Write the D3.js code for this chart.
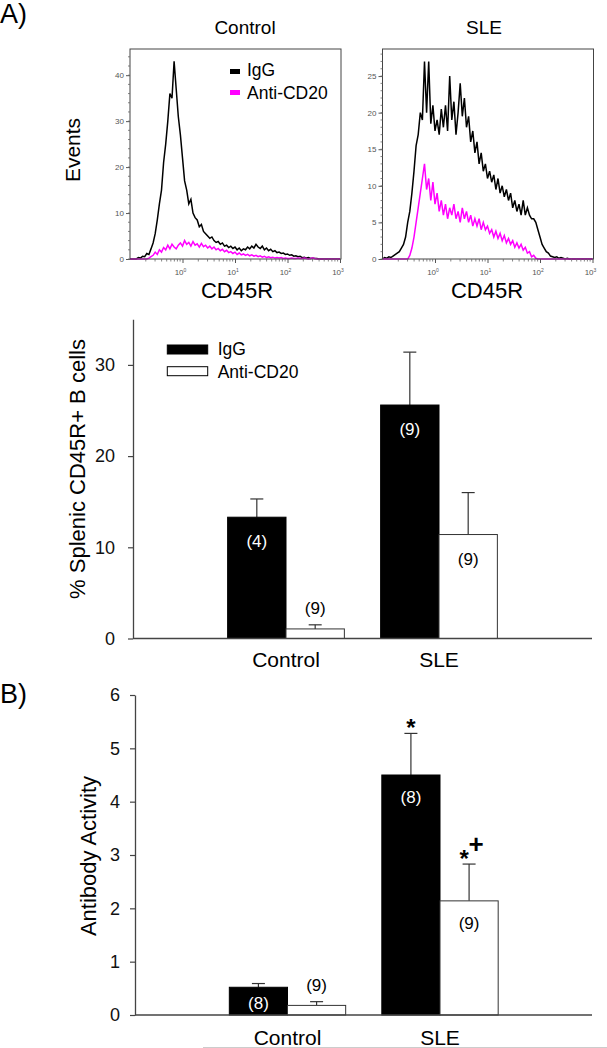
<!DOCTYPE html>
<html><head><meta charset="utf-8">
<script src="https://cdn.jsdelivr.net/npm/d3@7"></script>
<style>
body{margin:0;background:#fff}
svg{display:block}
text{font-family:"Liberation Sans",Arial,Helvetica,sans-serif}
</style>
</head><body>
<svg id="c" width="607" height="1048"></svg>
<script>
// ---------------- DATA ----------------
// Panel A top: flow cytometry histograms (events per channel, channels on a log10 grid)
const histGroups = ["Control", "SLE"];
const histSeries = ["IgG", "Anti-CD20"];
const histLogStart = -1, histLogStep = 0.04; // channel grid: log10(CD45R) from -1 to 3
const ctrlIgG = [0,0,0,0, 0.3,0.2,0.6,0.5,1.2,1.0,
  2.2,3.5,5.5,8.5,12,15,21,25,30,36,
  35,43,37,31,27,22,17,15,12,13,
  10,9,8.5,7,7.5,6,5.5,5,4.5,4.8,
  4,3.6,3.8,3.2,3.5,2.8,3.0,2.5,2.8,2.3,
  2.6,2.0,2.4,1.8,2.2,2.0,2.6,2.2,2.8,2.4,
  3.2,2.6,2.3,2.8,2.0,2.4,1.8,2.1,1.6,1.8,
  1.4,1.5,1.2,1.3,1.0,1.1,0.8,0.9,0.6,0.7,
  0.5,0.6,0.3,0.4,0.2,0.3,0.1,0.2,0.1,0.1,
  0,0,0,0,0,0,0,0,0,0,0];
const ctrlAnti = [0,0,0,0,0,0,0,0,0,
  0.2,0.5,0.8,1.5,1.0,2.0,1.5,2.5,2.0,3.0,2.2,
  3.2,2.6,2.2,3.0,3.5,2.8,4.0,3.2,3.6,2.8,
  3.8,3.0,3.3,2.6,3.4,2.7,3.0,2.4,2.8,2.2,
  2.6,2.0,2.3,1.8,2.1,1.6,1.9,1.4,1.6,1.2,
  1.5,1.0,1.3,0.9,1.1,0.8,1.0,0.7,0.9,0.6,
  0.8,0.5,0.7,0.4,0.6,0.3,0.5,0.3,0.4,0.2,
  0.3,0.2,0.3,0.1,0.2,0.1,0.1,0.2,0.1,0.1,
  0.2,0.1,0.1,0.2,0.1,0,0.1,0.2,0.1,0,
  0,0,0,0,0,0,0,0,0,0,0];
const sleIgG = [0,0.2,0.1,0.3,0.2,0.4,0.6,0.8,1.0,1.5,
  2.0,3.0,5.0,6.5,9.0,12.0,15.5,17.0,20.0,19.0,
  27.0,20.0,27.0,18.5,21.0,17.5,19.0,17.0,20.5,18.0,
  21.0,17.5,25.0,19.0,21.5,17.0,20.0,24.0,19.5,22.0,
  18.0,19.5,16.0,17.5,14.5,16.0,13.0,14.5,12.0,13.0,
  11.0,12.0,10.5,11.5,9.5,11.0,9.0,10.0,8.5,9.5,
  8.0,9.0,7.0,8.0,6.5,7.5,6.0,8.0,6.0,7.0,
  6.0,5.5,5.5,5.0,4.0,3.0,2.0,1.5,1.0,0.8,
  0.4,0.3,0.2,0.3,0.1,0.2,0.1,0,0.1,0,
  0,0,0,0,0,0,0,0,0,0,0];
const sleAnti = [0,0,0,0,0,0,0,0,0,0,0,0,0,
  0.5,1.5,3.0,5.0,7.0,9.0,11.0,
  13.0,9.5,11.0,8.0,10.5,7.5,9.0,6.5,8.0,6.0,
  7.5,5.5,7.0,6.0,7.5,5.5,6.5,5.0,7.0,5.5,
  6.5,5.0,6.0,4.5,5.5,4.5,5.5,4.0,5.0,4.0,
  4.5,3.5,4.0,3.0,3.8,2.8,3.5,2.5,3.2,2.2,
  2.8,2.0,2.5,1.6,2.2,1.5,2.0,1.2,1.6,0.8,
  1.0,0.3,0.5,0.1,0,0,0,0,0,0,
  0,0,0,0,0,0,0,0,0,0,
  0,0,0,0,0,0,0,0,0,0,0];
const histYTicksCtrl = [0, 10, 20, 30, 40];
const histYTicksSLE = [0, 5, 10, 15, 20, 25];
const histXTicks = [1, 10, 100, 1000];
const histXTickExp = ["0", "1", "2", "3"];

// Panel A bottom: % splenic CD45R+ B cells
const categories = ["Control", "SLE"];
const barSeries = ["IgG", "Anti-CD20"];
const pctIgG = [13.3, 25.6];
const pctIgGErr = [2.0, 5.8];
const pctAnti = [1.05, 11.4];
const pctAntiErr = [0.45, 4.6];
const pctIgGN = ["(4)", "(9)"];
const pctAntiN = ["(9)", "(9)"];
const pctTicks = [0, 10, 20, 30];

// Panel B: antibody activity
const abIgG = [0.52, 4.5];
const abIgGErr = [0.07, 0.78];
const abAnti = [0.18, 2.14];
const abAntiErr = [0.07, 0.69];
const abIgGN = ["(8)", "(8)"];
const abAntiN = ["(9)", "(9)"];
const abIgGSig = ["", "*"];
const abAntiSig = ["", "*+"];
const abTicks = [0, 1, 2, 3, 4, 5, 6];

// ---------------- DRAW ----------------
const svg = d3.select("#c");
const FONT = '"Liberation Sans",Arial,Helvetica,sans-serif';
const MAGENTA = "#ff00ff";

svg.append("text").attr("x", 0).attr("y", 23).attr("font-size", 27).text("A)");
svg.append("text").attr("x", 0).attr("y", 703).attr("font-size", 27).text("B)");

function histPanel(o) {
  const x = d3.scaleLog().domain([0.1, 1000]).range([o.x0, o.x1]);
  const y = d3.scaleLinear().domain([0, o.ymax]).range([259, 49]);
  const g = svg.append("g");
  const line = d3.line()
    .x((d, i) => x(Math.pow(10, histLogStart + i * histLogStep)))
    .y(d => y(d));
  o.series.forEach((s, k) => {
    g.append("path").datum(s).attr("d", line)
      .attr("fill", "none").attr("stroke", k === 0 ? "#000" : MAGENTA)
      .attr("stroke-width", 1.5).attr("stroke-linejoin", "miter");
  });
  g.append("rect").attr("x", o.x0).attr("y", 49).attr("width", o.x1 - o.x0 + 1).attr("height", 210)
    .attr("fill", "none").attr("stroke", "#444").attr("stroke-width", 1);
  const ya = g.append("g").attr("transform", `translate(${o.x0},0)`)
    .call(d3.axisLeft(y).tickValues(o.yTicks).tickSize(4).tickSizeOuter(0).tickPadding(2));
  ya.select(".domain").remove();
  ya.selectAll("line").attr("stroke", "#555");
  ya.selectAll("text").attr("font-size", 8).attr("fill", "#555").attr("font-family", FONT);
  d3.range(0, o.ymax, o.yMinor).forEach(v => {
    g.append("line").attr("x1", o.x0 - 2).attr("x2", o.x0).attr("y1", y(v)).attr("y2", y(v))
      .attr("stroke", "#666").attr("stroke-width", 0.8);
  });
  const xa = g.append("g").attr("transform", "translate(0,259)")
    .call(d3.axisBottom(x).tickValues(histXTicks).tickSize(4).tickSizeOuter(0).tickFormat(""));
  xa.select(".domain").remove();
  xa.selectAll("line").attr("stroke", "#555");
  [0.1, 1, 10, 100].forEach(dec => {
    for (let m = 2; m <= 9; m++) {
      const xv = x(dec * m);
      g.append("line").attr("x1", xv).attr("x2", xv).attr("y1", 259).attr("y2", 261.5)
        .attr("stroke", "#666").attr("stroke-width", 0.8);
    }
  });
  histXTicks.forEach((t, i) => {
    const tx = g.append("text").attr("x", x(t) - 2).attr("y", 275).attr("text-anchor", "middle")
      .attr("font-size", 8).attr("fill", "#555");
    tx.append("tspan").text("10");
    tx.append("tspan").attr("dy", -3).attr("font-size", 5).text(histXTickExp[i]);
  });
  svg.append("text").attr("x", o.titleX).attr("y", 34).attr("text-anchor", "middle")
    .attr("font-size", 19).text(o.title);
  svg.append("text").attr("x", o.labelX).attr("y", 298).attr("text-anchor", "middle")
    .attr("font-size", 22).text("CD45R");
}

histPanel({x0: 130, x1: 340, ymax: 45.7, yTicks: histYTicksCtrl, yMinor: 2,
  series: [ctrlIgG, ctrlAnti], title: histGroups[0], titleX: 245, labelX: 237});
histPanel({x0: 382.5, x1: 592.5, ymax: 28.7, yTicks: histYTicksSLE, yMinor: 1,
  series: [sleIgG, sleAnti], title: histGroups[1], titleX: 484, labelX: 487});

svg.append("text").attr("transform", "translate(80,150) rotate(-90)").attr("text-anchor", "middle")
  .attr("font-size", 21).text("Events");

[["#000", 69], [MAGENTA, 90]].forEach((d, i) => {
  svg.append("rect").attr("x", 230).attr("y", d[1]).attr("width", 10).attr("height", 5).attr("fill", d[0]);
  svg.append("text").attr("x", 247).attr("y", i === 0 ? 76 : 99).attr("font-size", 17.5).text(histSeries[i]);
});

function barChart(o) {
  const y = d3.scaleLinear().domain([0, o.ymax]).range([o.yBase, o.yTop]);
  const xb = d3.scaleBand().domain(categories).range(o.bandRange).paddingInner(0.237).paddingOuter(0.1185);
  const xs = d3.scaleBand().domain(barSeries).range([0, xb.bandwidth()]);
  const g = svg.append("g");
  const series = [
    {name: barSeries[0], v: o.igg, e: o.iggErr, n: o.iggN, sig: o.iggSig || ["", ""], fill: "#000", txt: "#fff"},
    {name: barSeries[1], v: o.anti, e: o.antiErr, n: o.antiN, sig: o.antiSig || ["", ""], fill: "#fff", txt: "#000"}
  ];
  series.forEach(s => {
    categories.forEach((c, i) => {
      const bx = xb(c) + xs(s.name), bw = xs.bandwidth();
      const top = y(s.v[i]), et = y(s.v[i] + s.e[i]), cx = bx + bw / 2;
      g.append("line").attr("x1", cx).attr("x2", cx).attr("y1", top).attr("y2", et)
        .attr("stroke", "#333").attr("stroke-width", 1.2);
      g.append("line").attr("x1", cx - 6.5).attr("x2", cx + 6.5).attr("y1", et).attr("y2", et)
        .attr("stroke", "#333").attr("stroke-width", 1.2);
      g.append("rect").attr("x", bx).attr("y", top).attr("width", bw).attr("height", o.yBase - top)
        .attr("fill", s.fill).attr("stroke", s.fill === "#000" ? "#000" : "#333").attr("stroke-width", 1);
      const h = o.yBase - top;
      let ly, col = s.txt;
      if (s.fill === "#fff" && h < 30) { ly = et - 11; col = "#000"; }
      else if (h < 40) { ly = (top + o.yBase) / 2 + 8; }
      else { ly = top + o.nOffset; }
      g.append("text").attr("x", cx).attr("y", ly).attr("text-anchor", "middle")
        .attr("font-size", 17).attr("fill", col).text(s.n[i]);
      const sig = s.sig[i];
      if (sig) {
        const hasPlus = sig.includes("+");
        g.append("text").attr("x", cx - (hasPlus ? 5 : 0)).attr("y", et + 3).attr("text-anchor", "middle")
          .attr("font-size", 24).attr("font-weight", "bold").text("*");
        if (hasPlus) {
          g.append("text").attr("x", cx + 7).attr("y", et - 11).attr("text-anchor", "middle")
            .attr("font-size", 26).attr("font-weight", "bold").text("+");
        }
      }
    });
  });
  const ya = g.append("g").attr("transform", `translate(${o.axisX},0)`)
    .call(d3.axisLeft(y).tickValues(o.ticks).tickSize(5).tickSizeOuter(0).tickPadding(o.tickPad).tickFormat(d3.format("d")));
  ya.select(".domain").attr("stroke", "#444").attr("stroke-width", 1.3);
  ya.selectAll("line").attr("stroke", "#444").attr("stroke-width", 1.2);
  ya.selectAll("text").attr("font-size", 18).attr("fill", "#111").attr("font-family", FONT);
  g.append("line").attr("x1", o.axisX).attr("x2", o.axisRight).attr("y1", o.yBase).attr("y2", o.yBase)
    .attr("stroke", "#444").attr("stroke-width", 1.3);
  categories.forEach(c => {
    g.append("text").attr("x", xb(c) + xb.bandwidth() / 2).attr("y", o.catY).attr("text-anchor", "middle")
      .attr("font-size", 21).text(c);
  });
  svg.append("text").attr("transform", `translate(${o.labelX},${o.labelY}) rotate(-90)`)
    .attr("text-anchor", "middle").attr("font-size", 22).text(o.yLabel);
  return {y, xb};
}

barChart({ymax: 35, yBase: 638.5, yTop: 319.3, bandRange: [209.5, 515.5], axisX: 133, axisRight: 592,
  ticks: pctTicks, tickPad: 13, igg: pctIgG, iggErr: pctIgGErr, anti: pctAnti, antiErr: pctAntiErr,
  iggN: pctIgGN, antiN: pctAntiN, nOffset: 30, catY: 667,
  labelX: 85, labelY: 469, yLabel: "% Splenic CD45R+ B cells"});

[["#000", 345], ["#fff", 366.7]].forEach((d, i) => {
  svg.append("rect").attr("x", 167.3).attr("y", d[1]).attr("width", 40.4).attr("height", 9)
    .attr("fill", d[0]).attr("stroke", "#000").attr("stroke-width", 1);
  svg.append("text").attr("x", 217.7).attr("y", i === 0 ? 355 : 377.5).attr("font-size", 17.5).text(barSeries[i]);
});

barChart({ymax: 6, yBase: 1015, yTop: 695, bandRange: [211.25, 516.25], axisX: 135, axisRight: 592,
  ticks: abTicks, tickPad: 10, igg: abIgG, iggErr: abIgGErr, anti: abAnti, antiErr: abAntiErr,
  iggN: abIgGN, antiN: abAntiN, iggSig: abIgGSig, antiSig: abAntiSig, nOffset: 28, catY: 1045,
  labelX: 96, labelY: 856, yLabel: "Antibody Activity"});

svg.append("line").attr("x1", 203).attr("x2", 607).attr("y1", 1047.5).attr("y2", 1047.5)
  .attr("stroke", "#ccc").attr("stroke-width", 1);
</script>
</body></html>
